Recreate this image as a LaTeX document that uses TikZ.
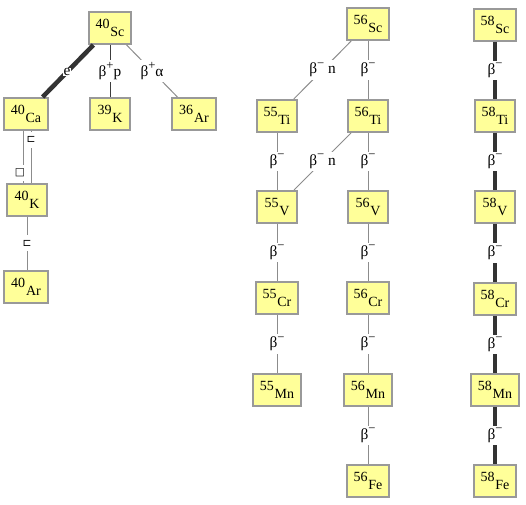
\documentclass[tikz,border=0pt]{standalone}
\usepackage{fontspec}
\setmainfont{Liberation Serif}
\newfontfamily\symfont{DejaVu Sans}
\definecolor{nucfill}{RGB}{255,255,153}
\definecolor{nucedge}{RGB}{153,153,153}
\definecolor{linegray}{RGB}{140,140,140}
\definecolor{linedark}{RGB}{60,60,60}
\definecolor{thickline}{RGB}{51,51,51}
\newcommand\isot[2]{\raisebox{0.55em}{#1}\kern0.6pt#2}
\newcommand\bsup[1]{\raisebox{0.42em}{\fontsize{9.5}{10}\selectfont#1}}
\tikzset{
  nuc/.style={draw=nucedge, line width=1.5pt, fill=nucfill, minimum height=24pt,
    inner xsep=5.3pt, inner ysep=0pt, font=\fontsize{10.5}{12}\selectfont},
  lbl/.style={fill=white, inner xsep=1pt, inner ysep=2pt, font=\fontsize{11.5}{13}\selectfont},
  glbl/.style={fill=white, inner xsep=1.5pt, inner ysep=0pt, minimum height=12pt, font=\symfont\fontsize{8}{9}\selectfont},
  thinline/.style={draw=linegray, line width=0.75pt},
  darkline/.style={draw=linedark, line width=0.75pt},
  heavyline/.style={draw=thickline, line width=3.4pt},
}
\begin{document}
\begin{tikzpicture}[x=0.75pt,y=-0.75pt]
\useasboundingbox (0,0) rectangle (526,505);
% nodes
\node[nuc] (sc40) at (110,28) {\isot{40}{Sc}};
\node[nuc] (ca40) at (26,114) {\isot{40}{Ca}};
\node[nuc] (k39) at (110,114) {\isot{39}{K}};
\node[nuc] (ar36) at (194,114) {\isot{36}{Ar}};
\node[nuc] (k40) at (27,200) {\isot{40}{K}};
\node[nuc] (ar40) at (26,287) {\isot{40}{Ar}};
\node[nuc] (sc56) at (368,24) {\isot{56}{Sc}};
\node[nuc] (ti55) at (277,116) {\isot{55}{Ti}};
\node[nuc] (ti56) at (368,116) {\isot{56}{Ti}};
\node[nuc] (v55) at (277,207) {\isot{55}{V}};
\node[nuc] (v56) at (368,207) {\isot{56}{V}};
\node[nuc] (cr55) at (277,298) {\isot{55}{Cr}};
\node[nuc] (cr56) at (368,298) {\isot{56}{Cr}};
\node[nuc] (mn55) at (277,390) {\isot{55}{Mn}};
\node[nuc] (mn56) at (368,390) {\isot{56}{Mn}};
\node[nuc] (fe56) at (368,481) {\isot{56}{Fe}};
\node[nuc] (sc58) at (495,25) {\isot{58}{Sc}};
\node[nuc] (ti58) at (495,116) {\isot{58}{Ti}};
\node[nuc] (v58) at (495,207) {\isot{58}{V}};
\node[nuc] (cr58) at (495,299) {\isot{58}{Cr}};
\node[nuc] (mn58) at (495,390) {\isot{58}{Mn}};
\node[nuc] (fe58) at (495,481) {\isot{58}{Fe}};
% 40Sc branches
\draw[heavyline] (sc40) -- node[lbl, inner sep=0.5pt, pos=0.52] (le) {e} (ca40);
\draw[darkline] (sc40) -- node[lbl] (lbp) {β\bsup{+}p} (k39);
\draw[thinline] (sc40) -- node[lbl] (lba) {β\bsup{+}α} (ar36);
% 40Ca / 40K / 40Ar
\draw[thinline] ([xshift=-2.25pt]ca40.south) -- node[glbl, pos=0.81, xshift=-2.25pt] (lsq) {□} ([xshift=-2.25pt]ca40.south |- k40.north);
\draw[thinline] ([xshift=3.75pt]ca40.south) -- node[glbl, pos=0.17] (lbr1) {⊏} ([xshift=3.75pt]ca40.south |- k40.north);
\draw[thinline] (k40) -- node[glbl] (lbr2) {⊏} (k40 |- ar40.north);
% A=55/56 chains
\draw[thinline] (sc56) -- node[lbl] (l1) {β\bsup{−} n} (ti55);
\draw[thinline] (sc56) -- node[lbl] (l2) {β\bsup{−}} (ti56);
\draw[thinline] (ti55) -- node[lbl] (l3) {β\bsup{−}} (v55);
\draw[thinline] (ti56) -- node[lbl] (l4) {β\bsup{−} n} (v55);
\draw[thinline] (ti56) -- node[lbl] (l5) {β\bsup{−}} (v56);
\draw[thinline] (v55) -- node[lbl] (l6) {β\bsup{−}} (cr55);
\draw[thinline] (v56) -- node[lbl] (l7) {β\bsup{−}} (cr56);
\draw[thinline] (cr55) -- node[lbl] (l8) {β\bsup{−}} (mn55);
\draw[thinline] (cr56) -- node[lbl] (l9) {β\bsup{−}} (mn56);
\draw[thinline] (mn56) -- node[lbl] (l10) {β\bsup{−}} (fe56);
% A=58 chain
\draw[heavyline] (sc58) -- node[lbl] (m1) {β\bsup{−}} (ti58);
\draw[heavyline] (ti58) -- node[lbl] (m2) {β\bsup{−}} (v58);
\draw[heavyline] (v58) -- node[lbl] (m3) {β\bsup{−}} (cr58);
\draw[heavyline] (cr58) -- node[lbl] (m4) {β\bsup{−}} (mn58);
\draw[heavyline] (mn58) -- node[lbl] (m5) {β\bsup{−}} (fe58);
\end{tikzpicture}
\end{document}
